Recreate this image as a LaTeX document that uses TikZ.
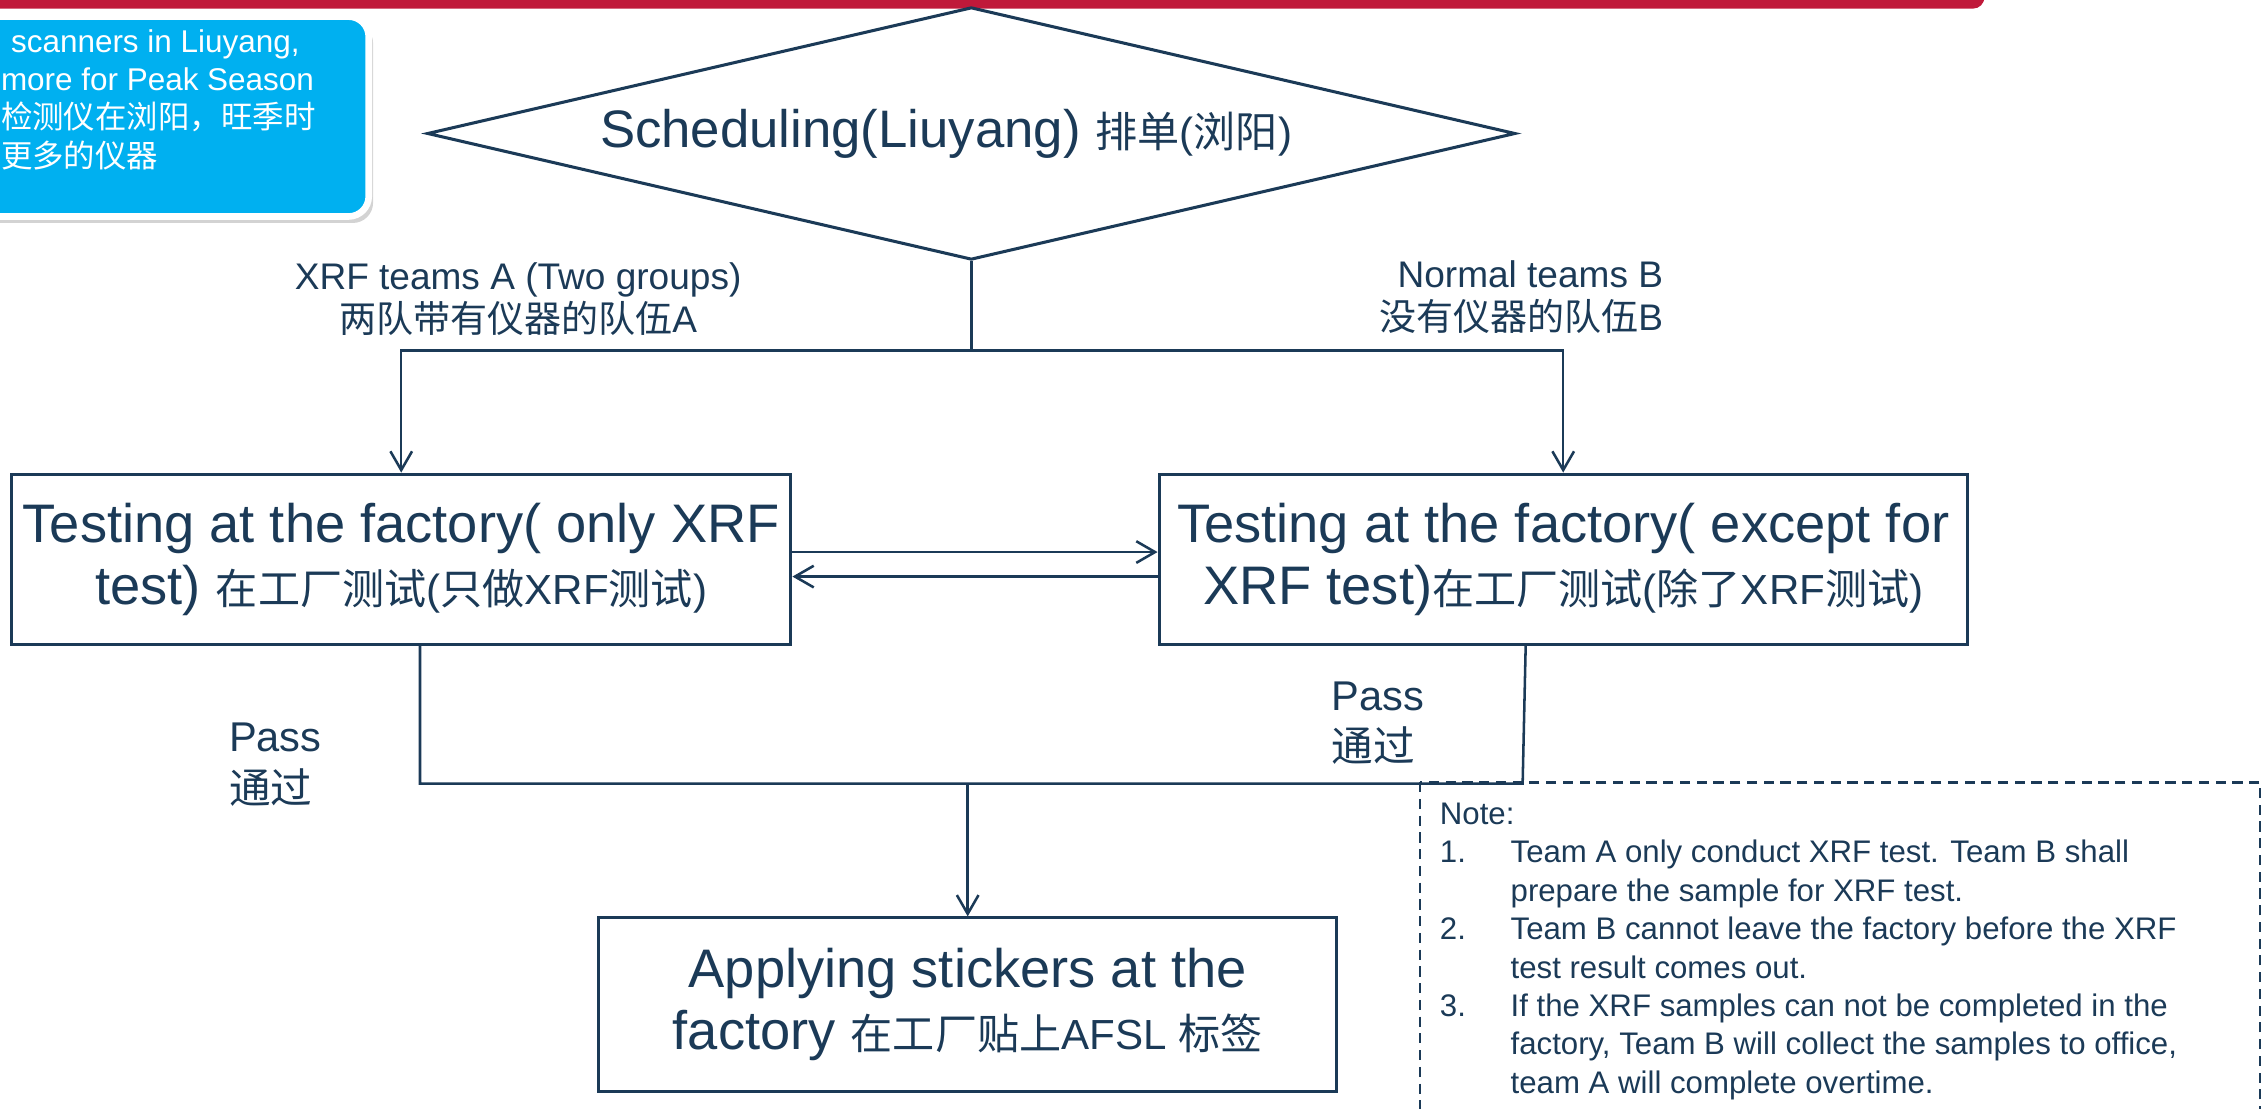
\documentclass[tikz,border=0pt]{standalone}
\usepackage{fontspec}
\setmainfont{Liberation Sans}
\newfontfamily\cjk{Noto Sans CJK SC}
\newcommand{\zh}[1]{{\cjk #1}}
\newcommand{\subrun}[1]{{\fontsize{8.3}{12}\selectfont #1}}
\usetikzlibrary{positioning,arrows.meta,shapes.geometric,shadows}
\definecolor{navy}{HTML}{1B3A57}
\definecolor{topred}{HTML}{C0193A}
\definecolor{callblue}{HTML}{00B0F0}
\tikzset{
    stepbox/.style={
        rectangle, draw=navy, line width=0.6pt,
        minimum height=1.18cm, inner sep=0pt,
        align=center, text=navy,
        font=\fontsize{10.7}{12.2}\selectfont
    },
    decision/.style={
        diamond, draw=navy, line width=0.6pt,
        minimum width=7.54cm, minimum height=1.75cm,
        aspect=4.3, inner sep=0pt, text=navy,
        font=\fontsize{10.4}{11}\selectfont
    },
    branch/.style={
        text=navy, inner sep=0pt,
        font=\fontsize{7.3}{8.5}\selectfont
    },
    passlbl/.style={
        text=navy, inner sep=0pt, align=left,
        font=\fontsize{8.2}{10.2}\selectfont
    },
    callbox/.style={
        rectangle, rounded corners=0.14cm,
        fill=callblue, draw=white, line width=1.3pt,
        minimum width=2.955cm, minimum height=1.385cm,
        drop shadow={shadow xshift=0.03cm, shadow yshift=-0.045cm, opacity=0.35}
    },
    calltext/.style={
        text=white, inner sep=0pt, align=left,
        font=\fontsize{6.2}{7.55}\selectfont
    },
    notetext/.style={
        text=navy, inner sep=0pt,
        font=\fontsize{6.15}{7.57}\selectfont
    },
    link/.style={draw=navy, line width=0.5pt}
}
\begin{document}
\begin{tikzpicture}[>={Straight Barb[length=1.3mm,width=1.5mm]}, node distance=1cm and 2.53cm]
        \useasboundingbox (0,0) rectangle (15.68,-7.68);

        % Top bar
        \fill[topred, rounded corners=0.08cm] (-0.2,0.2) rectangle (13.75,-0.06);

        % Callout
        \node[callbox] (scanbox) at (1.0775,-0.8075) {};
        \node[calltext, anchor=west] (scantext) at (0,-0.69)
            {\hspace{0.07cm}scanners in Liuyang,\\more for Peak Season\\\zh{检测仪在浏阳，旺季时}\\\zh{更多的仪器}};

        % Scheduling
        \node[decision] (sched) at (6.73,-0.925)
            {Scheduling(Liuyang) \subrun{\zh{排单}(\zh{浏阳})}\hspace*{0.35cm}};
        \coordinate (split) at (6.73,-2.43);

        % Teams
        \node[branch, align=center] (teamA) at (3.59,-2.07) {XRF teams A (Two groups)\\\zh{两队带有仪器的队伍}A};
        \node[branch, align=right, anchor=east] (teamB) at (11.53,-2.06) {Normal teams B\\\zh{没有仪器的队伍}B};

        % Testing
        \node[stepbox, minimum width=5.4cm] (testA) at (2.78,-3.875)
            {Testing at the factory( only XRF\\test) \subrun{\zh{在工厂测试}(\zh{只做}XRF\zh{测试})}};
        \node[stepbox, minimum width=5.6cm, right=2.53cm of testA] (testB)
            {Testing at the factory( except for\\XRF test)\subrun{\zh{在工厂测试}(\zh{除了}XRF\zh{测试})}};

        % Stickers
        \node[stepbox, minimum width=5.11cm, minimum height=1.2cm] (apply) at (6.705,-6.96)
            {Applying stickers at the\\factory \subrun{\zh{在工厂贴上}AFSL \zh{标签}}};

        % Pass
        \node[passlbl, anchor=west] (passA) at (1.58,-5.30) {Pass\\\zh{通过}};
        \node[passlbl, anchor=west] (passB) at (9.22,-5.01) {Pass\\\zh{通过}};

        % Arrows
        \draw[link] (sched.south) -- (split);
        \draw[link,->] (split) -| (testA.north);
        \draw[link,->] (split) -| (testB.north);

        \draw[link,->] ([yshift=0.05cm]testA.east) -- ([yshift=0.05cm]testB.west);
        \draw[link,->] ([yshift=-0.12cm]testB.west) -- ([yshift=-0.12cm]testA.east);

        \coordinate (joinA) at (2.91,-5.43);
        \coordinate (joinB) at (10.55,-5.43);
        \coordinate (merge) at (apply.north |- joinA);
        \draw[link] ([xshift=0.13cm]testA.south) -- (joinA) -- (joinB) -- ([xshift=-0.26cm]testB.south);
        \draw[link,->] (merge) -- (apply.north);

        % Note
        \draw[navy, line width=0.5pt, dash pattern=on 2pt off 1.3pt] (9.84,-5.42) rectangle (15.66,-7.9);
        \node[notetext, anchor=north west] (notes) at (9.97,-5.52) {%
            \begin{tabular}{@{}p{0.49cm}@{}l@{}}
            \multicolumn{2}{@{}l}{Note:}\\
            1. & Team A only conduct XRF test. Team B shall\\
               & prepare the sample for XRF test.\\
            2. & Team B cannot leave the factory before the XRF\\
               & test result comes out.\\
            3. & If the XRF samples can not be completed in the\\
               & factory, Team B will collect the samples to office,\\
               & team A will complete overtime.
            \end{tabular}};

\end{tikzpicture}
\end{document}
